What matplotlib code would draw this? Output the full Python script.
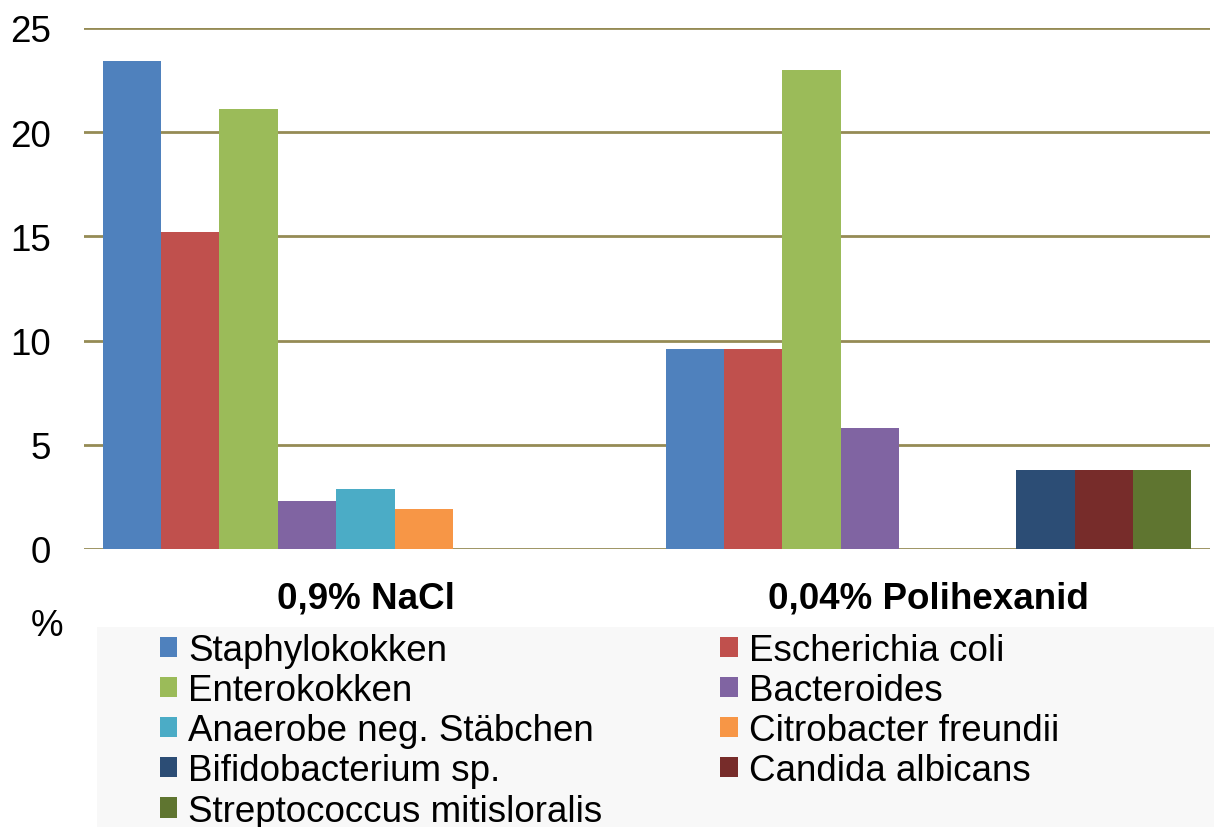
import matplotlib
matplotlib.use("Agg")
import matplotlib.pyplot as plt
import numpy as np
from matplotlib.patches import Rectangle

plt.rcParams['font.family'] = ['Liberation Sans', 'DejaVu Sans']

categories = ["0,9% NaCl", "0,04% Polihexanid"]
species = ["Staphylokokken", "Escherichia coli", "Enterokokken", "Bacteroides",
           "Anaerobe neg. Stäbchen", "Citrobacter freundii", "Bifidobacterium sp.",
           "Candida albicans", "Streptococcus mitisloralis"]
values_nacl = [23.4, 15.2, 21.1, 2.3, 2.9, 1.9, 0, 0, 0]
values_poli = [9.6, 9.6, 23.0, 5.8, 0, 0, 3.8, 3.8, 3.8]
colors = ["#4F81BD", "#C0504D", "#9BBB59", "#8064A2", "#4BACC6",
          "#F79646", "#2C4D75", "#772C2A", "#5F7530"]
yticks = [0, 5, 10, 15, 20, 25]

W, H = 1214, 828
fig = plt.figure(figsize=(W / 100, H / 100), dpi=100)
ax = fig.add_axes([84 / W, 1 - 550 / H, (1210 - 84) / W, (550 - 29) / H])

x = np.arange(len(categories))
n = len(species)
w = 0.934 / n
handles = []
for i, sp in enumerate(species):
    vals = [values_nacl[i], values_poli[i]]
    b = ax.bar(x + (i - (n - 1) / 2) * w, vals, width=w, color=colors[i],
               edgecolor='none', label=sp, zorder=3)
    handles.append(b)

ax.set_xlim(-0.5, 1.5)
ax.set_ylim(0, 25)
ax.set_yticks(yticks)
ax.set_yticklabels([str(t) for t in yticks], fontsize=26.5)
ax.set_xticks(x)
ax.set_xticklabels(categories, fontsize=26.5, fontweight='bold')
ax.tick_params(axis='y', length=0, pad=24)
ax.tick_params(axis='x', length=0, pad=23)
ax.grid(axis='y', color='#958B55', linewidth=2, zorder=0)
ax.set_axisbelow(True)
for s in ax.spines.values():
    s.set_visible(False)

fig.text(47 / W, 1 - 627 / H, "%", fontsize=26.5, ha='center', va='center')

# legend background
fig.patches.append(Rectangle((97 / W, 0), (W - 97) / W, (828 - 628) / H,
                             transform=fig.transFigure, facecolor='#F8F8F8',
                             edgecolor='none', zorder=0))

order = [0, 2, 4, 6, 8, 1, 3, 5, 7]
leg = fig.legend([handles[k] for k in order], [species[k] for k in order],
                 loc='upper left', bbox_to_anchor=(160 / W, 1 - 634 / H),
                 ncol=2, frameon=False, fontsize=26.5, borderpad=0,
                 handlelength=0.47, handleheight=0.47, handletextpad=0.3,
                 labelspacing=0.14, columnspacing=3.2, borderaxespad=0)

fig.savefig("out.png", dpi=100)
